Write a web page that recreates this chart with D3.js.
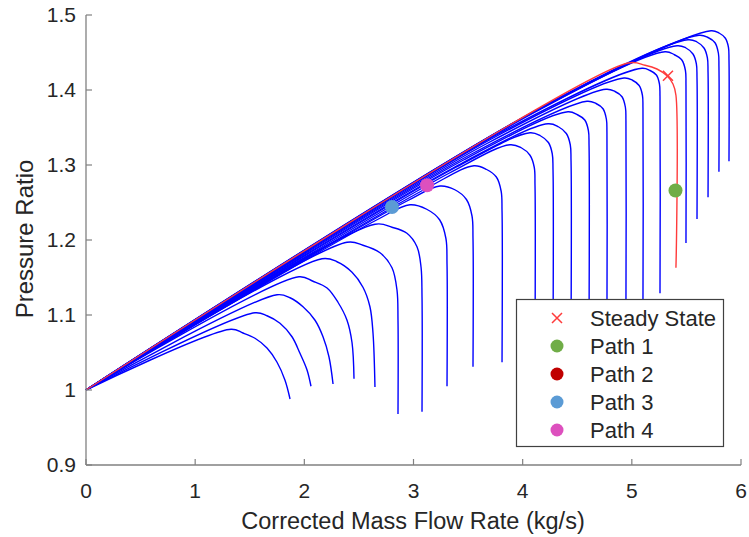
<!DOCTYPE html>
<html><head><meta charset="utf-8">
<script src="https://cdn.jsdelivr.net/npm/d3@7"></script>
<style>body{margin:0;background:#fff}</style>
</head><body><svg id="chart" width="749" height="537"></svg>
<script>
// ---------- data ----------
const xTickValues = [0, 1, 2, 3, 4, 5, 6];
const yTickValues = [0.9, 1.0, 1.1, 1.2, 1.3, 1.4, 1.5];
const yTickLabels = ["0.9", "1", "1.1", "1.2", "1.3", "1.4", "1.5"];
const xAxisTitle = "Corrected Mass Flow Rate (kg/s)";
const yAxisTitle = "Pressure Ratio";

// speed lines (corrected mass flow, pressure ratio)
const speedLine01 = [[0,1],[1.328,1.081],[1.438,1.076],[1.548,1.069],[1.658,1.056],[1.750,1.037],[1.823,1.013],[1.869,0.988]];
const speedLine02 = [[0,1],[1.548,1.103],[1.658,1.099],[1.777,1.089],[1.887,1.071],[1.960,1.049],[2.024,1.027],[2.061,1.005]];
const speedLine03 = [[0,1],[1.750,1.127],[1.869,1.123],[1.988,1.111],[2.098,1.093],[2.171,1.071],[2.226,1.044],[2.263,1.008]];
const speedLine04 = [[0,1],[1.951,1.151],[2.079,1.145],[2.208,1.136],[2.308,1.117],[2.391,1.093],[2.437,1.063],[2.455,1.015]];
const speedLine05 = [[0,1],[2.162,1.175],[2.299,1.171],[2.437,1.157],[2.537,1.137],[2.601,1.111],[2.629,1.076],[2.647,1.004]];
const speedLine06 = [[0,1],[2.391,1.197],[2.537,1.193],[2.693,1.183],[2.803,1.163],[2.849,1.133],[2.858,1.093],[2.858,0.968]];
const speedLine07 = [[0,1],[2.647,1.221],[2.803,1.217],[2.940,1.209],[3.032,1.191],[3.069,1.164],[3.078,1.124],[3.078,0.971]];
const speedLine08 = [[0,1],[2.666,1.227],[2.968,1.247],[3.121,1.241],[3.239,1.227],[3.297,1.202],[3.307,1.168],[3.307,1.005]];
const speedLine09 = [[0,1],[2.940,1.252],[3.243,1.272],[3.379,1.267],[3.485,1.254],[3.536,1.232],[3.545,1.202],[3.545,1.031]];
const speedLine10 = [[0,1],[3.133,1.270],[3.554,1.299],[3.670,1.294],[3.759,1.284],[3.803,1.265],[3.811,1.239],[3.811,1.037]];
const speedLine11 = [[0,1],[3.325,1.289],[3.884,1.327],[3.987,1.323],[4.067,1.313],[4.106,1.297],[4.113,1.273],[4.113,1.053]];
const speedLine12 = [[0,1],[3.389,1.297],[4.067,1.343],[4.162,1.339],[4.236,1.330],[4.271,1.315],[4.278,1.294],[4.278,1.063]];
const speedLine13 = [[0,1],[3.362,1.296],[4.232,1.355],[4.327,1.351],[4.400,1.342],[4.436,1.327],[4.443,1.306],[4.443,1.072]];
const speedLine14 = [[0,1],[3.463,1.307],[4.415,1.371],[4.502,1.367],[4.569,1.360],[4.602,1.346],[4.608,1.326],[4.608,1.083]];
const speedLine15 = [[0,1],[3.536,1.315],[4.589,1.385],[4.672,1.382],[4.736,1.375],[4.767,1.361],[4.772,1.343],[4.772,1.093]];
const speedLine16 = [[0,1],[3.664,1.328],[4.763,1.401],[4.846,1.398],[4.910,1.391],[4.941,1.377],[4.946,1.359],[4.946,1.107]];
const speedLine17 = [[0,1],[3.756,1.338],[4.928,1.416],[5.006,1.413],[5.067,1.406],[5.097,1.393],[5.102,1.376],[5.102,1.117]];
const speedLine18 = [[0,1],[3.811,1.344],[5.093,1.429],[5.167,1.426],[5.225,1.420],[5.253,1.408],[5.258,1.391],[5.258,1.129]];
const speedLine19 = [[0,1],[4.095,1.369],[5.304,1.451],[5.390,1.447],[5.458,1.440],[5.491,1.426],[5.496,1.406],[5.496,1.196]];
const speedLine20 = [[0,1],[4.095,1.370],[5.414,1.459],[5.496,1.456],[5.560,1.448],[5.591,1.435],[5.597,1.416],[5.597,1.228]];
const speedLine21 = [[0,1],[4.122,1.373],[5.514,1.467],[5.597,1.464],[5.661,1.456],[5.692,1.443],[5.698,1.424],[5.698,1.257]];
const speedLine22 = [[0,1],[4.122,1.373],[5.615,1.473],[5.698,1.470],[5.762,1.463],[5.793,1.449],[5.798,1.431],[5.798,1.291]];
const speedLine23 = [[0,1],[4.030,1.365],[5.725,1.479],[5.799,1.476],[5.857,1.469],[5.885,1.457],[5.890,1.440],[5.890,1.305]];
const speedLines = [speedLine01, speedLine02, speedLine03, speedLine04, speedLine05, speedLine06, speedLine07,
  speedLine08, speedLine09, speedLine10, speedLine11, speedLine12, speedLine13, speedLine14, speedLine15,
  speedLine16, speedLine17, speedLine18, speedLine19, speedLine20, speedLine21, speedLine22, speedLine23];

const steadyStateLine = [[0,1],[4.965,1.436],[5.121,1.433],[5.230,1.428],[5.322,1.419],[5.377,1.408],[5.404,1.393],[5.404,1.163]];
const steadyStatePoint = [[5.331, 1.419]];
const path1Points = [[5.400, 1.266]];
const path2Points = [];
const path3Points = [[2.803, 1.244]];
const path4Points = [[3.124, 1.273]];

const legendLabels = ["Steady State", "Path 1", "Path 2", "Path 3", "Path 4"];
const legendColors = ["#ff3b3b", "#70ad47", "#c00000", "#5b9bd5", "#dd50be"];

// ---------- layout ----------
const plotL = 86, plotR = 741, plotT = 15, plotB = 465;
const svg = d3.select("#chart");
const xs = d3.scaleLinear().domain([0, 6]).range([plotL, plotR]);
const ys = d3.scaleLinear().domain([0.9, 1.5]).range([plotB, plotT]);
const font = "'Liberation Sans', Arial, Helvetica, sans-serif";
const textColor = "#262626";
const axisColor = "#808080";

const lineGen = d3.line().x(d => xs(d[0])).y(d => ys(d[1])).curve(d3.curveCatmullRom.alpha(0.5));

// speed lines
svg.append("g").selectAll("path").data(speedLines).join("path")
  .attr("d", lineGen).attr("fill", "none").attr("stroke", "#0000ff").attr("stroke-width", 1.4)
  .attr("stroke-linejoin", "round");

// steady state line
svg.append("path").datum(steadyStateLine).attr("d", lineGen)
  .attr("fill", "none").attr("stroke", legendColors[0]).attr("stroke-width", 1.4);

// steady state marker (x)
const cross = (g, px, py, s, c) => {
  g.append("path").attr("d", `M${px-s},${py-s}L${px+s},${py+s}M${px-s},${py+s}L${px+s},${py-s}`)
    .attr("stroke", c).attr("stroke-width", 1.5).attr("fill", "none");
};
const markG = svg.append("g");
steadyStatePoint.forEach(p => cross(markG, xs(p[0]), ys(p[1]), 5, legendColors[0]));

// path markers
const pathSets = [path1Points, path2Points, path3Points, path4Points];
pathSets.forEach((pts, i) => {
  markG.selectAll(null).data(pts).join("circle")
    .attr("cx", d => xs(d[0])).attr("cy", d => ys(d[1])).attr("r", 7)
    .attr("fill", legendColors[i + 1]);
});

// axes
const axG = svg.append("g");
axG.append("line").attr("x1", plotL).attr("x2", plotL).attr("y1", plotT).attr("y2", plotB)
  .attr("stroke", axisColor).attr("stroke-width", 1.3);
axG.append("line").attr("x1", plotL).attr("x2", plotR).attr("y1", plotB).attr("y2", plotB)
  .attr("stroke", axisColor).attr("stroke-width", 1.3);
axG.selectAll(".xt").data(xTickValues).join("line")
  .attr("x1", d => xs(d)).attr("x2", d => xs(d)).attr("y1", plotB).attr("y2", plotB - 6)
  .attr("stroke", axisColor).attr("stroke-width", 1.2);
axG.selectAll(".yt").data(yTickValues).join("line")
  .attr("y1", d => ys(d)).attr("y2", d => ys(d)).attr("x1", plotL).attr("x2", plotL + 6)
  .attr("stroke", axisColor).attr("stroke-width", 1.2);
axG.selectAll(".xl").data(xTickValues).join("text")
  .attr("x", d => xs(d)).attr("y", plotB + 33).attr("text-anchor", "middle")
  .attr("font-family", font).attr("font-size", 21).attr("fill", textColor).text(d => d);
axG.selectAll(".yl").data(yTickValues).join("text")
  .attr("x", plotL - 10).attr("y", d => ys(d) + 7).attr("text-anchor", "end")
  .attr("font-family", font).attr("font-size", 21).attr("fill", textColor).text((d, i) => yTickLabels[i]);
svg.append("text").attr("x", 413).attr("y", plotB + 64).attr("text-anchor", "middle")
  .attr("font-family", font).attr("font-size", 23.5).attr("fill", textColor).text(xAxisTitle);
svg.append("text").attr("transform", `translate(33,239) rotate(-90)`)
  .attr("text-anchor", "middle").attr("font-family", font).attr("font-size", 24)
  .attr("fill", textColor).text(yAxisTitle);

// legend
const lg = svg.append("g");
lg.append("rect").attr("x", 516.5).attr("y", 299.5).attr("width", 207).attr("height", 147)
  .attr("fill", "#fff").attr("stroke", "#404040").attr("stroke-width", 1.2);
legendLabels.forEach((lab, i) => {
  const cy = 318 + i * 28;
  if (i === 0) cross(lg, 557, cy, 5, legendColors[0]);
  else lg.append("circle").attr("cx", 557).attr("cy", cy).attr("r", 6.5).attr("fill", legendColors[i]);
  lg.append("text").attr("x", 590).attr("y", cy + 7.5).attr("font-family", font).attr("font-size", 22)
    .attr("fill", textColor).text(lab);
});
</script></body></html>
